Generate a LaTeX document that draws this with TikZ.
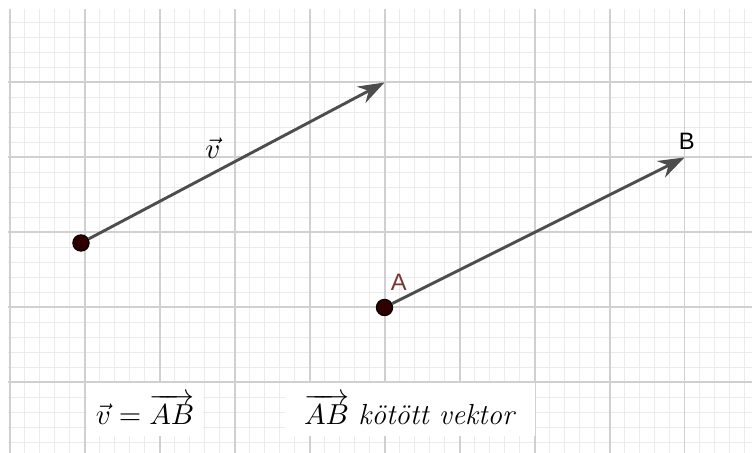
\documentclass[tikz,border=0pt]{standalone}
\usepackage{amsmath}
\usepackage{fontspec}
\newfontfamily\cimkefont{Liberation Sans}
\usetikzlibrary{arrows.meta,positioning}
\definecolor{racsfo}{HTML}{D0D0D0}
\definecolor{racsal}{HTML}{EBEBEB}
\definecolor{vektorszin}{HTML}{4D4D4D}
\definecolor{pontszin}{HTML}{2E0000}
\definecolor{abetu}{HTML}{7A3535}

\begin{document}
\begin{tikzpicture}[>={Stealth[length=10pt,width=7pt]},
  foracs/.style={draw=racsfo, line width=0.75pt},
  alracs/.style={draw=racsal, line width=0.7pt},
  vek/.style={->, draw=vektorszin, line width=1.1pt},
  pont/.style={circle, fill=pontszin, draw=black, line width=0.4pt, inner sep=0pt, minimum size=6.2pt},
  cimke/.style={font=\cimkefont\small, inner sep=1pt},
  doboz/.style={fill=white, inner sep=0pt, minimum height=0.707cm, font=\fontsize{11}{13}\selectfont}]
  % hatter es racs
  \useasboundingbox[fill=white] (-0.127,-0.94) rectangle (9.9,5.1);
  \begin{scope}
    \clip (-0.02,-0.94) rectangle (9.9,4.967);
    \foreach \i in {0,...,50} {
      \draw[alracs] (\i/5,-1) -- (\i/5,5.2);
      \draw[alracs] (-0.2,\i/5-1) -- (10,\i/5-1);
    }
    \foreach \i in {0,...,9} \draw[foracs] (\i,-1) -- (\i,5.2);
    \foreach \i in {-1,...,5} \draw[foracs] (-0.2,\i) -- (10,\i);
  \end{scope}
  % a ket vektor
  \node[pont] (vkezd) at (0.953,1.86) {};
  \coordinate (vveg) at (5,4);
  \draw[vek] (vkezd) -- (vveg);
  \node[font=\fontsize{11}{13}\selectfont] (vcimke) at (2.713,3.13) {$\vec{v}$};
  \node[pont] (A) at (5,1) {};
  \coordinate (B) at (9,3);
  \draw[vek] (A) -- (B);
  \node[cimke, text=abetu] (Acimke) at (5.19,1.33) {A};
  \node[cimke] (Bcimke) at (9.03,3.22) {B};
  % feliratok
  \node[doboz, minimum width=1.547cm] (egyenlo) at (1.807,-0.36) {$\vec{v} = \overrightarrow{AB}$};
  \node[doboz, minimum width=3.33cm] (kotott) at (5.34,-0.36) {$\overrightarrow{AB}$ \textit{kötött vektor}};
\end{tikzpicture}
\end{document}
